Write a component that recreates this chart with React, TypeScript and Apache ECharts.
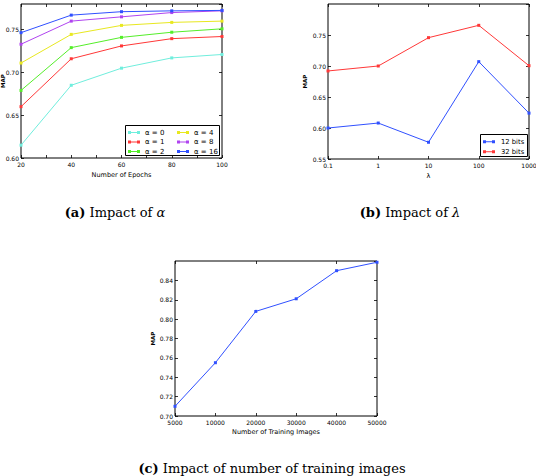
import React, { useEffect, useRef } from "react";
import * as echarts from "echarts";

// (a) Impact of alpha
const epochs = [20, 40, 60, 80, 100];
const alphaNames = ["α = 0", "α = 1", "α = 2", "α = 4", "α = 8", "α = 16"];
const alpha0 = [0.615, 0.685, 0.705, 0.717, 0.721];
const alpha1 = [0.66, 0.716, 0.731, 0.7395, 0.742];
const alpha2 = [0.679, 0.729, 0.741, 0.747, 0.751];
const alpha4 = [0.711, 0.7445, 0.755, 0.7585, 0.76];
const alpha8 = [0.733, 0.76, 0.765, 0.77, 0.772];
const alpha16 = [0.7465, 0.767, 0.771, 0.772, 0.7725];
const alphaColors = ["#70eedd", "#ff3838", "#55ee2a", "#e8e820", "#b044f0", "#3050ff"];

// (b) Impact of lambda
const lambdas = ["0.1", "1", "10", "100", "1000"];
const bitNames = ["12 bits", "32 bits"];
const bits12 = [0.6, 0.608, 0.577, 0.707, 0.624];
const bits32 = [0.692, 0.7, 0.7457, 0.7656, 0.7005];
const bitColors = ["#3050ff", "#ff3838"];

// (c) Impact of number of training images
const trainSizes = ["5000", "10000", "20000", "30000", "40000", "50000"];
const trainMap = [0.71, 0.755, 0.808, 0.821, 0.85, 0.8587];

const tickFont = "DejaVu Sans";
const capFont = "DejaVu Serif";
// legend glyph: thin line with a square marker at each end
const legendIcon = "path://M0,1h12v1h-12z M0,0h3v3h-3z M9,0h3v3h-3z";

export default function App() {
  const ref = useRef<HTMLDivElement>(null);
  useEffect(() => {
    document.body.style.margin = "0";
    const chart = echarts.init(ref.current!, null, { renderer: "svg" });
    const labelStyle = { fontSize: 6, color: "#000", fontFamily: tickFont };
    const tick = { show: true, inside: true, length: 3, lineStyle: { color: "#000", width: 0.8 } };
    const nameStyle = { fontSize: 6.5, color: "#000", fontFamily: tickFont };

    const grids = [
      { left: 21, top: 4, width: 201, height: 154 },
      { left: 328, top: 4, width: 201, height: 155 },
      { left: 175, top: 261, width: 202, height: 155 },
    ].map((g) => ({
      ...g,
      show: true,
      containLabel: false,
      outerBoundsMode: "none",
      borderColor: "#000",
      borderWidth: 1,
      backgroundColor: "transparent",
    }));

    const baseX = (gi: number, extra: any) => [
      {
        gridIndex: gi,
        position: "bottom",
        axisLine: { show: false },
        axisTick: tick,
        splitLine: { show: false },
        axisLabel: { ...labelStyle, margin: 3 },
        nameTextStyle: nameStyle,
        nameLocation: "middle",
        nameMoveOverlap: false,
        ...extra,
      },
      {
        gridIndex: gi,
        position: "top",
        axisLine: { show: false },
        axisTick: tick,
        splitLine: { show: false },
        ...extra,
        axisLabel: { show: false },
        name: "",
      },
    ];
    const baseY = (gi: number, extra: any) => [
      {
        gridIndex: gi,
        type: "value",
        position: "left",
        axisLine: { show: false },
        axisTick: tick,
        splitLine: { show: false },
        axisLabel: { ...labelStyle, margin: 2, showMaxLabel: false, formatter: (v: number) => v.toFixed(2) },
        nameTextStyle: { fontSize: 5.5, lineHeight: 6, color: "#000", fontFamily: tickFont, fontWeight: "bold" },
        nameLocation: "middle",
        nameMoveOverlap: false,
        name: "MAP",
        ...extra,
      },
      {
        gridIndex: gi,
        type: "value",
        position: "right",
        axisLine: { show: false },
        axisTick: tick,
        splitLine: { show: false },
        ...extra,
        axisLabel: { show: false },
        name: "",
      },
    ];

    const xAxis = [
      ...baseX(0, {
        type: "value",
        min: 20,
        max: 100,
        interval: 10,
        name: "Number of Epochs",
        nameGap: 13,
        axisLabel: {
          ...labelStyle,
          margin: 3,
          formatter: (v: number) => (v % 20 === 0 ? String(v) : ""),
        },
      }),
      ...baseX(1, {
        type: "category",
        data: lambdas,
        boundaryGap: false,
        name: "λ",
        nameGap: 13,
      }),
      ...baseX(2, {
        type: "category",
        data: trainSizes,
        boundaryGap: false,
        name: "Number of Training Images",
        nameGap: 12,
      }),
    ];
    const yAxis = [
      ...baseY(0, { min: 0.6, max: 0.78, interval: 0.05, nameGap: 15 }),
      ...baseY(1, { min: 0.55, max: 0.8, interval: 0.05, nameGap: 20 }),
      ...baseY(2, { min: 0.7, max: 0.86, interval: 0.02, nameGap: 19 }),
    ];

    const alphaData = [alpha0, alpha1, alpha2, alpha4, alpha8, alpha16];
    const lineSeries = (name: string, color: string, xi: number, yi: number, data: any[]) => ({
      type: "line",
      name,
      xAxisIndex: xi,
      yAxisIndex: yi,
      data,
      symbol: "rect",
      symbolSize: 3,
      showSymbol: true,
      color,
      lineStyle: { width: 1, color },
      itemStyle: { color },
    });
    const series: any[] = [
      ...alphaData.map((d, i) =>
        lineSeries(alphaNames[i], alphaColors[i], 0, 0, d.map((v, j) => [epochs[j], v]))
      ),
      lineSeries(bitNames[0], bitColors[0], 2, 2, bits12),
      lineSeries(bitNames[1], bitColors[1], 2, 2, bits32),
      lineSeries("MAP", "#3050ff", 4, 4, trainMap),
    ];

    const legendCommon = {
      orient: "vertical",
      icon: legendIcon,
      itemWidth: 12,
      itemHeight: 3,
      itemGap: 2.5,
      padding: 0,
      z: 10,
      selectedMode: false,
    };

    chart.setOption({
      animation: false,
      grid: grids,
      xAxis,
      yAxis,
      series,
      legend: [
        {
          ...legendCommon,
          left: 128,
          top: 129,
          data: alphaNames.slice(0, 3),
          textStyle: { fontSize: 7, color: "#000", fontFamily: tickFont, lineHeight: 7 },
        },
        {
          ...legendCommon,
          left: 177,
          top: 129,
          data: alphaNames.slice(3),
          textStyle: { fontSize: 7, color: "#000", fontFamily: tickFont, lineHeight: 7 },
        },
        {
          ...legendCommon,
          left: 483,
          top: 138,
          itemWidth: 14,
          itemGap: 2.5,
          data: bitNames,
          textStyle: { fontSize: 6.8, color: "#000", fontFamily: tickFont, lineHeight: 7.5 },
        },
      ],
      graphic: [
        {
          type: "rect",
          z: 5,
          shape: { x: 125.5, y: 125.5, width: 94, height: 30 },
          style: { fill: "#fff", stroke: "#000", lineWidth: 1 },
        },
        {
          type: "rect",
          z: 5,
          shape: { x: 480.5, y: 134.5, width: 47, height: 22 },
          style: { fill: "#fff", stroke: "#000", lineWidth: 1 },
        },
        {
          type: "text",
          x: 115,
          y: 212,
          style: {
            text: "{b|(a)} Impact of {i|α}",
            font: `13px '${capFont}'`,
            fill: "#000",
            align: "center",
            verticalAlign: "middle",
            rich: {
              b: { fontWeight: "bold", fontSize: 13, fontFamily: capFont },
              i: { fontStyle: "italic", fontSize: 13, fontFamily: capFont },
            },
          },
        },
        {
          type: "text",
          x: 410,
          y: 212,
          style: {
            text: "{b|(b)} Impact of {i|λ}",
            font: `13px '${capFont}'`,
            fill: "#000",
            align: "center",
            verticalAlign: "middle",
            rich: {
              b: { fontWeight: "bold", fontSize: 13, fontFamily: capFont },
              i: { fontStyle: "italic", fontSize: 13, fontFamily: capFont },
            },
          },
        },
        {
          type: "text",
          x: 272,
          y: 468,
          style: {
            text: "{b|(c)} Impact of number of training images",
            font: `13px '${capFont}'`,
            fill: "#000",
            align: "center",
            verticalAlign: "middle",
            rich: {
              b: { fontWeight: "bold", fontSize: 13, fontFamily: capFont },
            },
          },
        },
      ],
    });
    return () => chart.dispose();
  }, []);
  return <div ref={ref} style={{ width: 536, height: 476 }} />;
}
